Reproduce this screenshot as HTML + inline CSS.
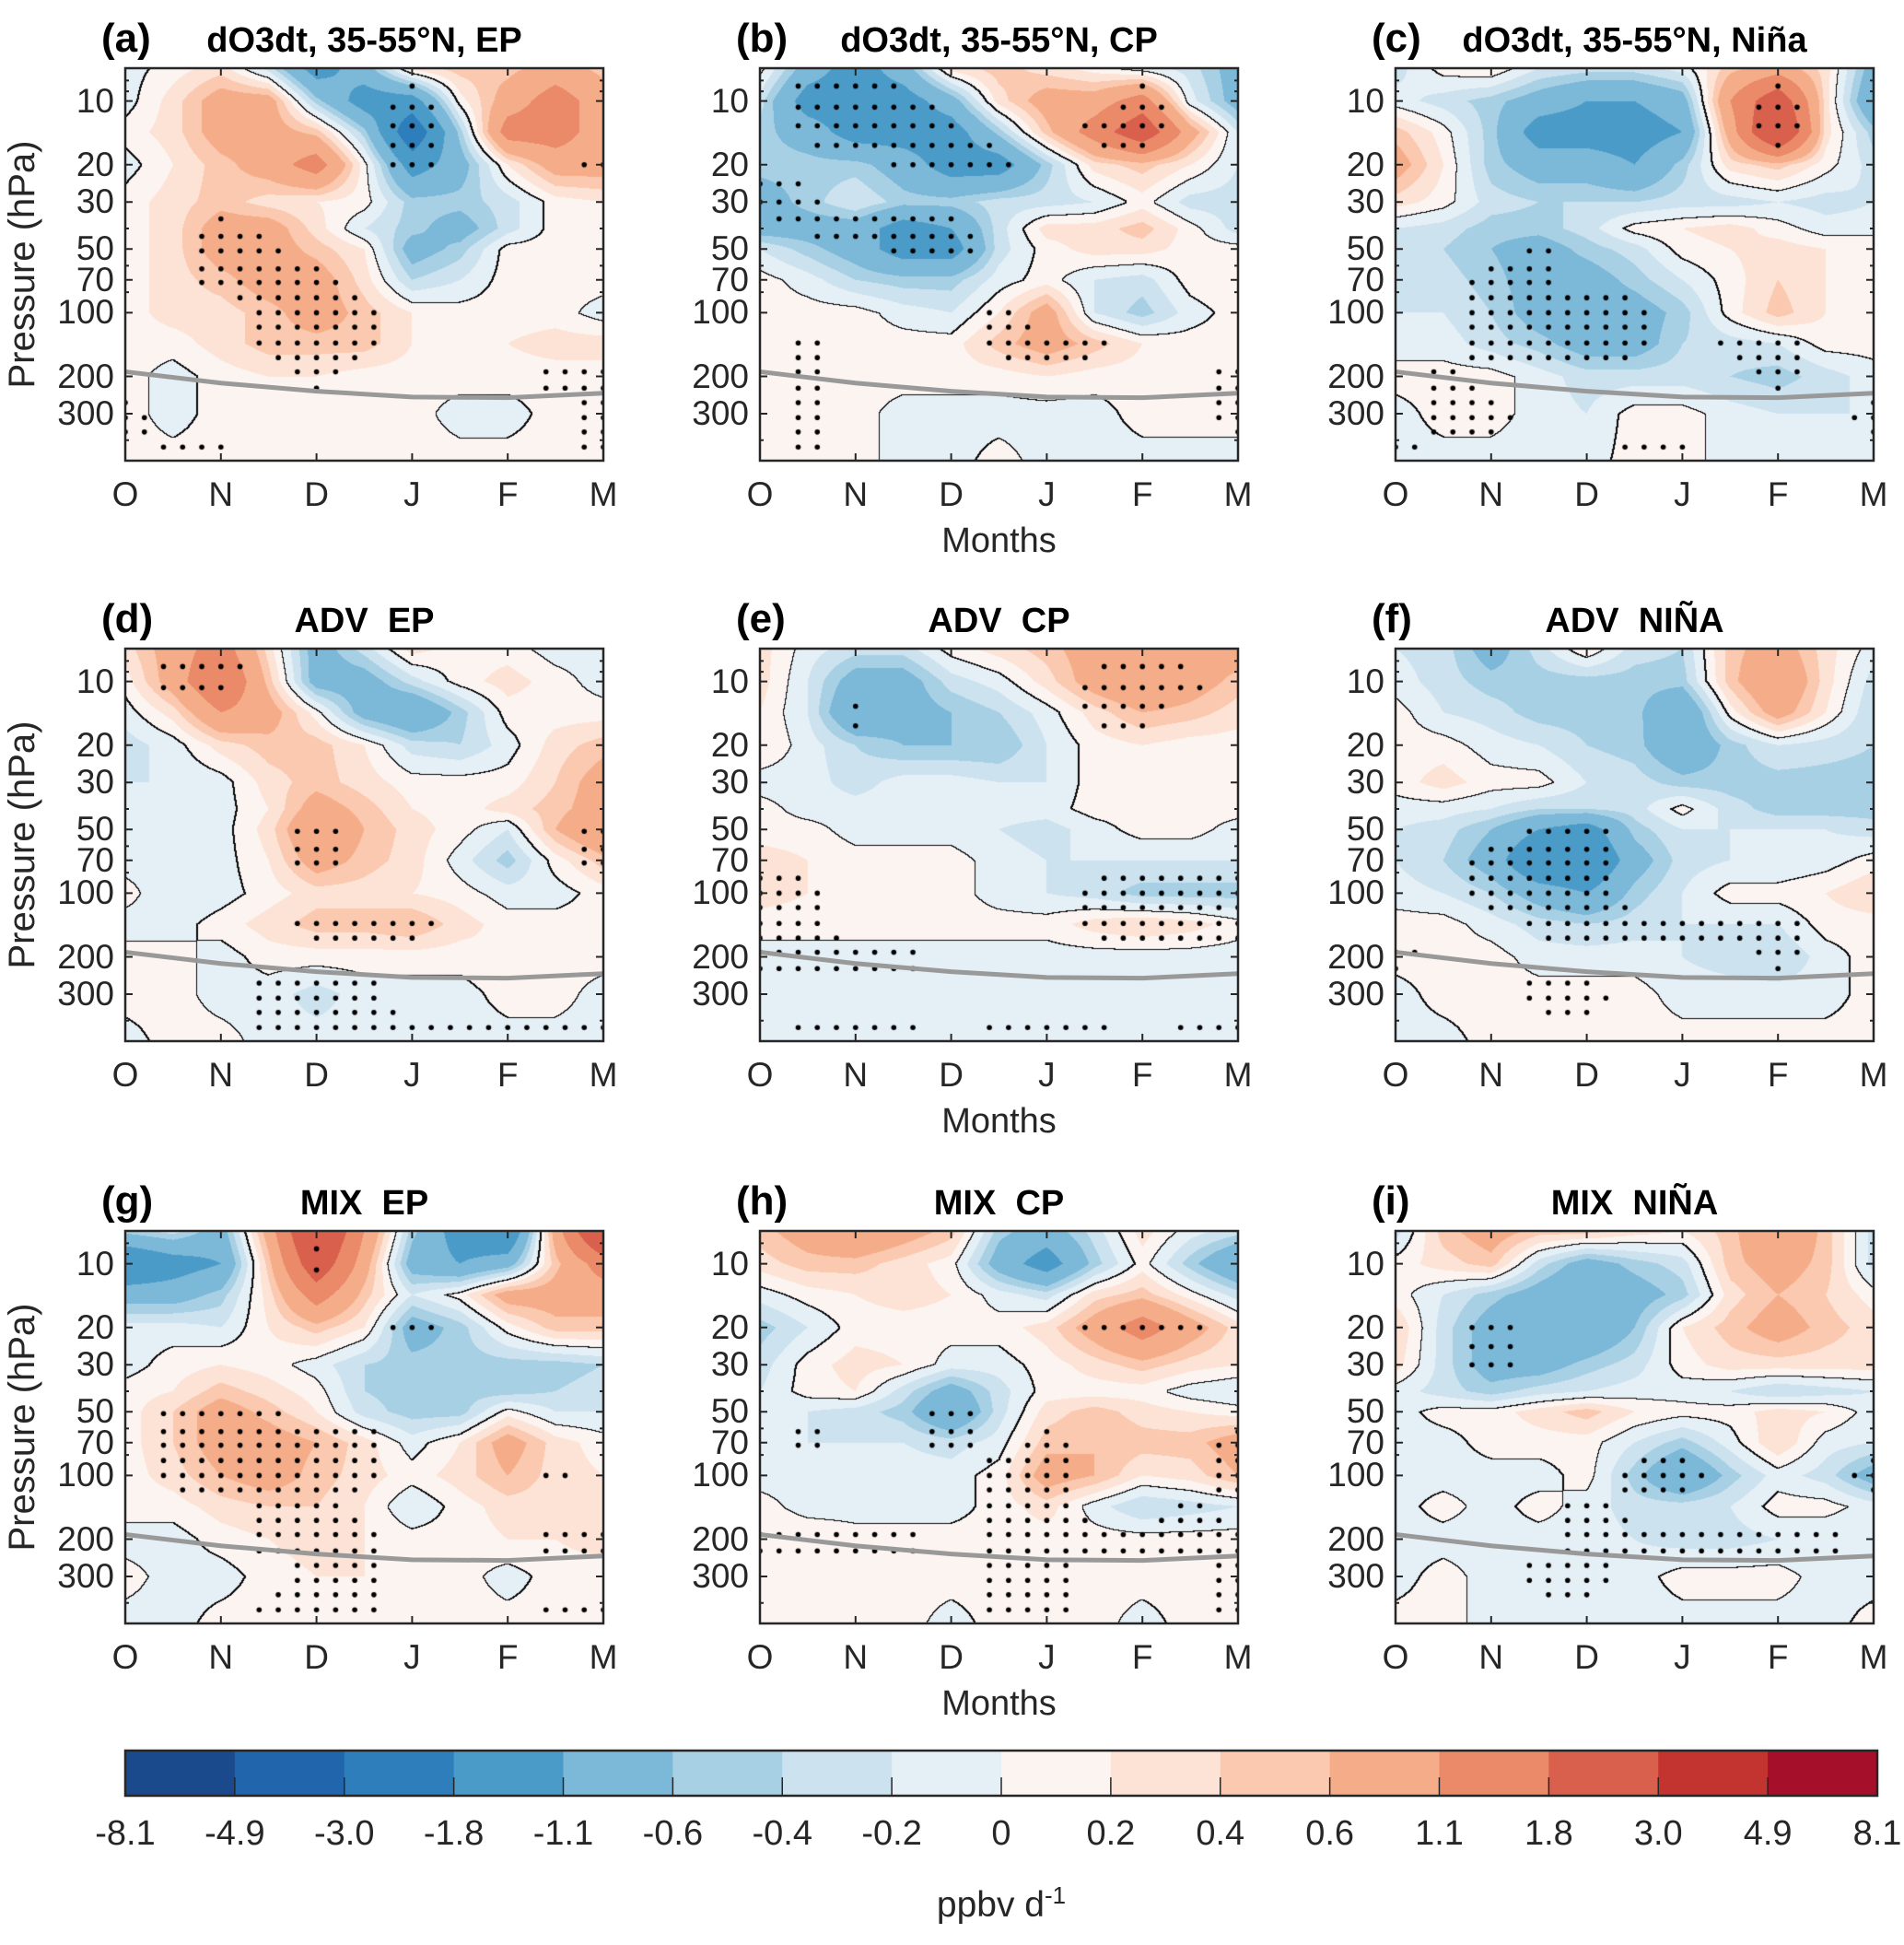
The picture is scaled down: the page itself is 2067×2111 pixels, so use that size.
<!DOCTYPE html>
<html><head><meta charset="utf-8">
<style>
body{margin:0;background:#fff;width:2067px;height:2111px;position:relative;overflow:hidden;font-family:"Liberation Sans",Arial,sans-serif;color:#262626}
.panel{position:absolute;width:519px;height:426px}
.panel canvas{position:absolute;left:0;top:0}
.panel svg{position:absolute;left:0;top:0;overflow:visible}
.t{position:absolute;white-space:pre}
</style></head>
<body>
<div id="root"></div>
<script>
// ---- data ----
const P = [7,10,14,20,30,40,50,70,100,140,200,300,500];
const MONTHS = ['O','N','D','J','F','M'];
const PTICKS = [10,20,30,50,70,100,200,300];
const BOUNDS = [-8.1,-4.9,-3,-1.8,-1.1,-0.6,-0.4,-0.2,0,0.2,0.4,0.6,1.1,1.8,3,4.9,8.1];
const BOUND_LABELS = ['-8.1','-4.9','-3.0','-1.8','-1.1','-0.6','-0.4','-0.2','0','0.2','0.4','0.6','1.1','1.8','3.0','4.9','8.1'];
const COLORS = ['#1a4a8c','#2166ac','#2e7ebc','#4b9bc9','#7cb8d8','#a8d0e4','#cce2ef','#e5eff6','#fcf4f1','#fde3d6','#fbc9af','#f5ad89','#ea8a69','#d8604c','#c3332f','#a50f29'];
const TROPO = [190,215,235,250,252,240];
const DOT_P = [8.5,10.7,13.1,16.2,20,24.6,30,36,43.6,51,62,72,85,100,117,139,163,190,227,266,313,366,431];

const A_VAL = [
[-0.1,0.1,0.3,-0.3,-1.4,-0.8,0.3,0.5,0.5,0.8,0.5],
[-0.1,0.3,0.8,0.8,-0.5,-1.4,-1.4,0.1,0.8,1.4,0.8],
[0.1,0.3,0.8,0.8,0.5,-0.5,-2.4,-0.5,1.4,1.4,0.8],
[-0.1,0.2,0.5,0.8,1.4,0.1,-1.4,-0.8,0.2,0.8,0.8],
[0.1,0.3,0.5,0.3,0.2,0.1,-0.5,-0.5,-0.3,0.1,0.2],
[0.1,0.3,0.8,0.8,0.3,-0.2,-0.5,-0.8,-0.3,0.1,0.1],
[0.1,0.3,0.8,0.8,0.5,0.2,-0.8,-0.5,0.1,0.1,0.1],
[0.1,0.3,0.5,0.8,0.8,0.3,-0.4,-0.2,0.1,0.1,0.1],
[0.1,0.3,0.3,0.5,0.8,0.5,0.2,0.1,0.1,0.1,-0.1],
[0.1,0.1,0.3,0.5,0.5,0.5,0.2,0.1,0.2,0.3,0.3],
[0.1,-0.1,0.1,0.2,0.2,0.1,0.1,0.1,0.1,0.1,0.1],
[0.1,-0.1,0.1,0.1,0.1,0.1,0.1,-0.1,-0.1,0.1,0.1],
[0.1,0.1,0.1,0.1,0.1,0.1,0.1,0.1,0.1,0.1,0.1]];
const A_SIG = ["00000000000","00000010000","00000010000","00000010001","00000000000","00100000000","00110000000","00111000000","00011100000","00011100000","00001000011","10000000001","01100000001"];

const B_VAL = [
[0.1,-0.8,-1.4,-0.8,0.3,0.5,0.3,0.1,-0.1,-0.3,-0.8],
[-0.3,-1.4,-1.4,-1.4,-0.8,0.3,0.8,0.8,1.4,-0.1,-0.8],
[-0.5,-0.8,-1.4,-1.4,-1.4,-0.5,0.5,1.4,2.4,0.8,-0.2],
[-0.5,-0.5,-0.5,-0.8,-1.4,-1.4,-0.5,0.3,0.5,0.2,-0.2],
[-0.8,-0.5,-0.2,-0.5,-0.5,-0.3,-0.3,-0.2,0.1,-0.3,-0.3],
[-0.8,-0.8,-0.8,-1.4,-1.1,-0.3,0.3,0.3,0.5,0.1,-0.3],
[-0.2,-0.5,-0.8,-1.4,-1.4,-0.3,0.1,0.3,0.3,0.1,0.1],
[0.1,-0.1,-0.4,-0.5,-0.5,-0.1,0.1,-0.2,-0.3,0.1,0.2],
[0.1,0.1,0.1,-0.1,-0.2,0.2,0.8,-0.2,-0.5,-0.1,0.1],
[0.1,0.1,0.1,0.1,0.1,0.5,0.8,0.5,0.2,0.1,0.1],
[0.1,0.1,0.1,0.1,0.1,0.1,0.2,0.1,0.1,0.1,0.1],
[0.1,0.1,0.1,-0.1,-0.1,-0.1,-0.1,-0.1,0.1,0.1,0.1],
[0.1,0.1,0.1,-0.1,-0.1,0.1,-0.1,-0.1,-0.1,-0.1,-0.1]];
const B_SIG = ["01100000001","01110000100","01111001100","00011100000","11000000000","01111000000","00011000000","00000000000","00000100000","01000111000","01000000001","01000000001","01000000000"];

const C_VAL = [
[-0.3,0.1,0.2,-0.2,-0.3,-0.3,-0.1,0.5,0.8,0.3,-0.8],
[-0.1,-0.3,-0.5,-0.8,-1.1,-1.1,-0.8,1.1,2.4,0.3,-1.1],
[0.5,0.1,-0.5,-1.4,-1.4,-1.4,-1.1,0.8,3.0,0.3,-0.5],
[0.8,0.2,-0.5,-0.8,-0.8,-1.1,-0.5,0.3,0.5,0.1,-0.3],
[0.3,0.1,-0.3,-0.4,-0.4,-0.4,-0.3,-0.3,-0.2,-0.3,-0.2],
[-0.2,-0.3,-0.5,-0.5,-0.3,0.1,0.2,0.3,0.1,-0.1,-0.1],
[-0.2,-0.4,-0.6,-0.8,-0.5,-0.3,0.1,0.2,0.3,0.2,0.2],
[-0.2,-0.3,-0.5,-0.8,-0.8,-0.5,-0.2,0.1,0.4,0.2,0.1],
[-0.2,-0.2,-0.4,-0.8,-0.8,-0.8,-0.5,0.1,0.5,0.2,0.1],
[-0.1,-0.1,-0.3,-0.5,-0.8,-0.8,-0.4,-0.3,-0.2,0.1,0.1],
[0.1,0.1,0.1,-0.1,-0.3,-0.3,-0.3,-0.4,-0.5,-0.3,-0.1],
[-0.1,0.1,0.1,-0.1,-0.2,0.1,0.1,-0.1,-0.2,-0.2,-0.2],
[-0.1,-0.1,-0.1,-0.1,-0.1,0.1,0.1,-0.1,-0.1,-0.1,-0.1]];
const C_SIG = ["00000000000","00000000100","00000000100","00000000000","00000000000","00000000000","00010000000","00110000000","00111100000","00111101100","01000000100","01100000001","10000110000"];

const D_VAL = [
[0.3,0.8,1.4,0.3,-0.8,-0.3,0.3,0.1,0.1,-0.1,-0.1],
[0.1,0.8,1.8,0.5,-0.8,-0.8,-0.3,0.1,0.3,0.1,-0.1],
[-0.1,0.3,1.1,0.8,0.1,-0.8,-1.1,-0.5,0.1,0.1,0.1],
[-0.3,-0.1,0.3,0.5,0.5,0.2,-0.3,-0.4,-0.1,0.3,0.5],
[-0.2,-0.2,-0.1,0.3,0.5,0.3,0.1,0.1,0.1,0.4,0.8],
[-0.2,-0.1,-0.1,0.2,0.8,0.5,0.2,0.1,0.3,0.5,0.8],
[-0.1,-0.1,-0.1,0.3,1.1,0.6,0.3,0.1,-0.2,0.6,1.1],
[-0.1,-0.1,-0.1,0.2,0.8,0.5,0.3,-0.1,-0.5,0.1,0.5],
[0.1,-0.2,-0.1,0.1,0.3,0.3,0.2,0.1,-0.1,-0.1,0.1],
[-0.1,-0.1,0.1,0.3,0.5,0.5,0.6,0.3,0.1,0.1,0.1],
[0.1,0.1,-0.1,0.1,0.1,0.1,0.1,0.1,0.2,0.1,0.1],
[0.1,0.1,-0.1,-0.1,-0.3,-0.1,-0.1,-0.1,0.1,0.1,-0.1],
[-0.1,0.1,0.1,-0.1,-0.1,-0.1,-0.1,-0.1,-0.1,-0.1,-0.1]];
const D_SIG = ["01100000000","01100000000","00000000000","00000000000","00000000000","00000000000","00001000001","00001000001","00000000000","00001110000","00000000000","00011100000","00011111111"];

const E_VAL = [
[0.3,-0.1,-0.3,-0.3,0.1,0.3,0.5,0.8,0.8,0.8,0.8],
[0.3,-0.2,-0.8,-0.8,-0.3,-0.1,0.3,0.8,1.1,0.8,0.5],
[0.2,-0.2,-1.1,-0.8,-0.6,-0.4,-0.1,0.3,0.6,0.5,0.3],
[0.2,-0.1,-0.4,-0.6,-0.6,-0.6,-0.2,0.1,0.2,0.1,0.1],
[-0.1,-0.1,-0.3,-0.1,-0.1,-0.2,-0.2,0.1,0.1,0.1,0.2],
[0.1,-0.1,-0.1,-0.1,-0.1,-0.1,-0.1,0.1,0.1,0.1,0.1],
[0.1,0.1,-0.1,-0.1,-0.1,-0.2,-0.3,-0.1,0.1,0.1,-0.1],
[0.3,0.2,0.1,0.1,0.1,-0.1,-0.2,-0.2,-0.2,-0.2,-0.2],
[0.3,0.2,0.1,0.1,0.1,-0.1,-0.2,-0.3,-0.5,-0.5,-0.5],
[0.1,0.1,0.1,0.1,0.1,0.1,0.1,0.3,0.4,0.3,0.1],
[-0.1,-0.1,-0.1,-0.1,-0.1,-0.1,-0.1,-0.1,-0.1,-0.1,-0.1],
[-0.1,-0.1,-0.1,-0.1,-0.1,-0.1,-0.1,-0.1,-0.1,-0.1,-0.1],
[-0.1,-0.1,-0.1,-0.1,-0.1,-0.1,-0.1,-0.1,-0.1,-0.1,-0.1]];
const E_SIG = ["00000000000","00000001110","00100001100","00000000000","00000000000","00000000000","00000000000","00000000000","11000001111","11000001111","11110000000","00000000000","01110111011"];

const F_VAL = [
[-0.2,-0.3,-0.8,-0.3,0.2,-0.3,-0.4,0.5,0.8,0.3,-0.1],
[-0.1,-0.3,-0.5,-0.5,-0.5,-0.5,-0.5,0.5,1.1,0.3,-0.3],
[0.1,-0.2,-0.3,-0.5,-0.5,-0.5,-1.1,0.1,0.8,0.2,-0.4],
[0.1,0.1,-0.1,-0.2,-0.4,-0.5,-1.0,-0.5,-0.2,-0.3,-0.4],
[0.1,0.3,0.1,0.1,-0.2,-0.3,-0.5,-0.5,-0.5,-0.5,-0.5],
[-0.1,-0.1,-0.2,-0.4,-0.4,-0.3,0.1,-0.3,-0.5,-0.5,-0.5],
[-0.2,-0.3,-0.6,-1.1,-1.4,-0.5,-0.2,-0.2,-0.2,-0.2,-0.3],
[-0.2,-0.4,-0.8,-1.8,-1.8,-0.8,-0.3,-0.2,-0.2,-0.1,0.1],
[-0.1,-0.2,-0.4,-0.8,-1.1,-0.5,-0.2,0.1,0.1,0.2,0.4],
[0.1,0.1,-0.1,-0.3,-0.4,-0.3,-0.2,-0.2,-0.2,0.1,0.1],
[0.1,0.1,0.1,-0.1,-0.1,-0.1,-0.2,-0.3,-0.4,-0.1,0.1],
[-0.1,0.1,0.1,0.1,0.1,0.1,-0.1,-0.1,-0.1,-0.1,0.1],
[-0.1,-0.1,0.1,0.1,0.1,0.1,0.1,0.1,0.1,0.1,0.1]];
const F_SIG = ["00000000000","00000000000","00000000000","00000000000","00000000000","00000000000","00011000000","00111000000","00111000000","00011111100","10000000100","00011000000","00000000000"];

const G_VAL = [
[-0.5,-0.3,-0.8,0.8,3.0,1.1,-0.5,-1.4,-1.8,0.8,3.0],
[-1.8,-1.4,-1.1,0.5,2.4,0.8,-0.8,-1.1,-0.8,0.5,1.4],
[-0.8,-0.8,-0.5,0.3,1.4,0.5,-0.2,0.1,0.8,0.8,0.8],
[-0.1,-0.1,-0.2,0.2,0.5,0.2,-0.8,-0.5,0.1,0.5,0.5],
[-0.1,0.1,0.2,0.1,-0.1,-0.4,-0.5,-0.5,-0.5,-0.5,-0.4],
[0.1,0.2,0.5,0.3,0.1,-0.4,-0.5,-0.5,-0.5,-0.4,-0.3],
[0.1,0.4,0.8,0.5,0.2,-0.3,-0.5,-0.5,0.1,-0.2,-0.2],
[0.1,0.4,0.8,0.8,0.6,0.3,-0.1,0.2,0.8,0.3,0.1],
[0.1,0.3,0.6,0.8,0.5,0.3,0.1,0.3,0.6,0.3,0.2],
[0.1,0.1,0.3,0.4,0.4,0.2,-0.2,0.1,0.3,0.3,0.3],
[-0.1,-0.1,0.1,0.2,0.3,0.2,0.1,0.1,0.2,0.2,0.3],
[0.1,-0.1,-0.1,0.1,0.2,0.2,0.1,0.1,-0.1,0.1,0.1],
[-0.1,-0.1,0.1,0.1,0.1,0.1,0.1,0.1,0.1,0.1,0.1]];
const G_SIG = ["00000000000","00001000000","00000000000","00000010000","00000000000","00000000000","01110000000","01111100000","01111100010","00011000000","00011100011","00001100000","00011100011"];

const H_VAL = [
[0.5,0.8,1.1,0.8,0.5,-0.5,-0.8,-0.3,0.3,-0.1,-0.3],
[0.3,0.5,0.5,0.3,0.1,-0.8,-1.4,-0.5,0.1,-0.5,-1.1],
[-0.1,0.1,0.2,0.3,0.2,-0.1,-0.3,0.3,0.5,0.1,-0.3],
[-0.5,-0.2,0.1,0.1,0.1,0.1,0.3,0.8,1.4,0.8,0.3],
[-0.3,0.1,0.3,0.2,-0.1,-0.1,0.1,0.3,0.5,0.3,0.2],
[-0.2,0.1,0.2,-0.3,-0.8,-0.3,0.1,0.1,0.1,-0.1,-0.2],
[-0.2,-0.2,-0.3,-0.5,-1.1,-0.3,0.3,0.5,0.3,0.2,0.1],
[-0.1,-0.2,-0.2,-0.2,-0.3,-0.1,0.5,0.6,0.5,0.5,0.8],
[-0.1,-0.1,-0.1,-0.1,-0.1,0.1,0.8,0.6,0.2,0.3,0.6],
[0.1,-0.1,-0.1,-0.1,-0.1,0.1,0.3,-0.1,-0.4,-0.3,-0.2],
[0.2,0.2,0.1,0.1,0.1,0.1,0.1,0.1,0.1,0.1,0.1],
[0.1,0.1,0.1,0.1,0.1,0.1,0.1,0.1,0.1,0.1,0.1],
[0.1,0.1,0.1,0.1,-0.1,0.1,0.1,0.1,-0.1,0.1,0.1]];
const H_SIG = ["00000000000","00000000000","00000000000","00000001110","00000000000","00000000000","00001000000","01001010001","00000110001","00000110010","11110111111","00000110001","00000110001"];

const I_VAL = [
[-0.3,0.5,0.8,0.5,0.5,0.3,0.2,0.5,1.1,0.5,-0.3],
[0.1,0.3,0.5,-0.3,-0.8,-0.5,-0.3,0.5,0.8,0.5,-0.3],
[0.1,-0.2,-0.5,-0.8,-1.1,-0.8,-0.5,0.3,0.6,0.4,0.1],
[0.4,-0.3,-0.8,-1.1,-1.1,-0.6,0.2,0.5,0.8,0.5,0.3],
[0.3,-0.3,-0.8,-0.8,-0.5,-0.3,0.1,0.3,0.3,0.3,0.3],
[-0.1,-0.3,-0.5,-0.3,-0.2,-0.1,-0.1,-0.2,-0.4,-0.3,-0.2],
[-0.1,0.1,0.1,0.3,0.5,0.2,0.1,0.1,0.3,0.2,-0.1],
[-0.1,-0.1,0.1,0.1,0.1,-0.2,-0.5,-0.1,0.4,-0.1,-0.2],
[-0.1,-0.1,-0.1,-0.1,0.1,-0.5,-1.1,-0.5,-0.1,-0.3,-0.8],
[-0.1,0.1,-0.1,0.1,-0.1,-0.3,-0.3,-0.2,0.1,0.1,-0.1],
[-0.1,-0.1,-0.1,-0.1,-0.1,-0.2,-0.3,-0.3,-0.2,-0.2,-0.2],
[-0.1,0.1,-0.1,-0.1,-0.1,-0.1,0.1,0.1,0.1,-0.1,-0.1],
[0.1,0.1,-0.1,-0.1,-0.1,-0.1,-0.1,-0.1,-0.1,-0.1,0.1]];
const I_SIG = ["00000000000","00000000000","00000000000","00100000000","00100000000","00000000000","00000000000","00000000000","00000110001","00001000000","00001111110","00011000000","00000000000"];

const PANELS = [
 {id:'a',title:'dO3dt, 35-55°N, EP',val:A_VAL,sig:A_SIG},
 {id:'b',title:'dO3dt, 35-55°N, CP',val:B_VAL,sig:B_SIG},
 {id:'c',title:'dO3dt, 35-55°N, Niña',val:C_VAL,sig:C_SIG},
 {id:'d',title:'ADV  EP',val:D_VAL,sig:D_SIG},
 {id:'e',title:'ADV  CP',val:E_VAL,sig:E_SIG},
 {id:'f',title:'ADV  NIÑA',val:F_VAL,sig:F_SIG},
 {id:'g',title:'MIX  EP',val:G_VAL,sig:G_SIG},
 {id:'h',title:'MIX  CP',val:H_VAL,sig:H_SIG},
 {id:'i',title:'MIX  NIÑA',val:I_VAL,sig:I_SIG}];

// ---- layout ----
const W = 519, H = 426;
const COLX = [136,825,1515], ROWY = [74,704,1336];
const LP0 = Math.log10(7), LP1 = Math.log10(500);
function xScale(m){ return m/5*W; }
function yScale(p){ return (Math.log10(p)-LP0)/(LP1-LP0)*H; }
const LOGP = P.map(p=>Math.log10(p));

function sample(grid, m, lp){
  let c = m*2; c = Math.max(0,Math.min(10,c));
  let j = 0, fr = 0;
  if (lp <= LOGP[0]) { j=0; fr=0; }
  else if (lp >= LOGP[LOGP.length-1]) { j=LOGP.length-2; fr=1; }
  else { while (LOGP[j+1] < lp) j++; fr=(lp-LOGP[j])/(LOGP[j+1]-LOGP[j]); }
  const i = Math.min(9, Math.floor(c)); const fc = c - i;
  const g = (r,k)=> typeof grid[r]==='string' ? +grid[r][k] : grid[r][k];
  const v0 = g(j,i)*(1-fc)+g(j,i+1)*fc;
  const v1 = g(j+1,i)*(1-fc)+g(j+1,i+1)*fc;
  return v0*(1-fr)+v1*fr;
}
function binOf(v){
  for (let k=0;k<16;k++) if (v < BOUNDS[k+1]) return k;
  return 15;
}
function hexRgb(h){ return [parseInt(h.substr(1,2),16),parseInt(h.substr(3,2),16),parseInt(h.substr(5,2),16)]; }
const RGB = COLORS.map(hexRgb);
const SVGNS = 'http://www.w3.org/2000/svg';

function text(parent, str, css, name){
  const d = document.createElement('div');
  d.className = 't';
  d.textContent = str;
  d.style.cssText = css;
  
  
  parent.appendChild(d);
  return d;
}

PANELS.forEach((pn, idx)=>{
  const col = idx%3, row = Math.floor(idx/3);
  const x0 = COLX[col], y0 = ROWY[row];
  const div = document.createElement('div');
  div.className = 'panel';
  div.style.left = x0+'px'; div.style.top = y0+'px';
  
  
  document.body.appendChild(div);

  const cv = document.createElement('canvas');
  cv.width = W; cv.height = H;
  
  
  div.appendChild(cv);
  const ctx = cv.getContext('2d');
  const img = ctx.createImageData(W,H);
  const sgn = new Int8Array(W*H);
  for (let y=0;y<H;y++){
    const lp = LP0 + (y+0.5)/H*(LP1-LP0);
    for (let x=0;x<W;x++){
      const m = (x+0.5)/W*5;
      const v = sample(pn.val, m, lp);
      sgn[y*W+x] = v>=0?1:0;
      const c = RGB[binOf(v)];
      const o = (y*W+x)*4;
      img.data[o]=c[0]; img.data[o+1]=c[1]; img.data[o+2]=c[2]; img.data[o+3]=255;
    }
  }
  for (let y=0;y<H;y++) for (let x=0;x<W;x++){
    const s = sgn[y*W+x];
    let edge = false;
    for (let dy=-1; dy<=1 && !edge; dy++) for (let dx=-1; dx<=1; dx++){
      const xx=x+dx, yy=y+dy;
      if (xx<0||yy<0||xx>=W||yy>=H) continue;
      if (sgn[yy*W+xx]!==s && s===1){ edge=true; break; }
    }
    if (!edge && x<W-1 && sgn[y*W+x+1]!==s) edge = true;
    if (edge){ const o=(y*W+x)*4; img.data[o]=10;img.data[o+1]=10;img.data[o+2]=10; }
  }
  ctx.putImageData(img,0,0);
  // stippling
  ctx.fillStyle = '#000';
  for (let k=0;k<=25;k++){
    const m = k*0.2;
    DOT_P.forEach(p=>{
      if (sample(pn.sig, m, Math.log10(p)) >= 0.5){
        ctx.beginPath(); ctx.arc(xScale(m), yScale(p), 2.8, 0, 6.2832); ctx.fill();
      }
    });
  }

  const svg = document.createElementNS(SVGNS,'svg');
  svg.setAttribute('width',W); svg.setAttribute('height',H);
  
  
  div.appendChild(svg);
  const tp = document.createElementNS(SVGNS,'polyline');
  tp.setAttribute('points', TROPO.map((p,i)=>xScale(i)+','+yScale(p)).join(' '));
  tp.setAttribute('fill','none'); tp.setAttribute('stroke','#999'); tp.setAttribute('stroke-width','5');
  
  
  svg.appendChild(tp);
  let tk = '';
  MONTHS.forEach((mn,i)=>{ const x=xScale(i); tk+=`M${x},${H}v-8M${x},0v8`; });
  PTICKS.forEach(p=>{ const y=yScale(p); tk+=`M0,${y}h8M${W},${y}h-8`; });
  [8,9,40,60,80,400,500].forEach(p=>{ const y=yScale(p); tk+=`M0,${y}h4M${W},${y}h-4`; });
  const tpath = document.createElementNS(SVGNS,'path');
  tpath.setAttribute('d',tk); tpath.setAttribute('stroke','#262626'); tpath.setAttribute('stroke-width','2');
  
  
  svg.appendChild(tpath);
  const box = document.createElementNS(SVGNS,'rect');
  box.setAttribute('x',0); box.setAttribute('y',0); box.setAttribute('width',W); box.setAttribute('height',H);
  box.setAttribute('fill','none'); box.setAttribute('stroke','#262626'); box.setAttribute('stroke-width','2.5');
  
  
  svg.appendChild(box);

  PTICKS.forEach(p=>{
    text(document.body, String(p), `right:${2067-x0+12}px;top:${y0+yScale(p)-21}px;font-size:37px;line-height:42px;`, 'y-tick-label');
  });
  MONTHS.forEach((mn,i)=>{
    text(document.body, mn, `left:${x0+xScale(i)-40}px;width:80px;text-align:center;top:${y0+H+16}px;font-size:37px;line-height:42px;`, 'x-tick-label');
  });
  text(document.body, '('+pn.id+')', `left:${x0-26}px;top:${y0-56}px;font-size:44px;font-weight:bold;line-height:48px;color:#000;`, 'panel-label-'+pn.id);
  text(document.body, pn.title, `left:${x0}px;width:${W}px;text-align:center;top:${y0-52}px;font-size:38px;font-weight:bold;line-height:44px;color:#000;`, 'panel-title-'+pn.id);
  if (col===0){
    text(document.body, 'Pressure (hPa)', `left:${x0-262}px;width:300px;text-align:center;top:${y0+H/2-22}px;font-size:40px;line-height:44px;transform:rotate(-90deg);`, 'y-axis-title');
  }
  if (col===1){
    text(document.body, 'Months', `left:${x0}px;width:${W}px;text-align:center;top:${y0+H+65}px;font-size:38px;line-height:44px;`, 'x-axis-title');
  }
});

// colorbar
const CB_X0 = 136, CB_X1 = 2038, CB_Y = 1900, CB_H = 49;
const cb = document.createElementNS(SVGNS,'svg');
cb.setAttribute('width','2067'); cb.setAttribute('height','80');
cb.style.cssText = `position:absolute;left:0;top:${CB_Y-5}px`;


document.body.appendChild(cb);
const cw = (CB_X1-CB_X0)/COLORS.length;
COLORS.forEach((c,i)=>{
  const r = document.createElementNS(SVGNS,'rect');
  r.setAttribute('x', CB_X0+i*cw); r.setAttribute('y',5); r.setAttribute('width',cw+0.5); r.setAttribute('height',CB_H);
  r.setAttribute('fill',c);
  
  
  cb.appendChild(r);
});
let cbt='';
for (let i=1;i<COLORS.length;i++){ const x=CB_X0+i*cw; cbt+=`M${x},${5+CB_H}v-20`; }
const cbp = document.createElementNS(SVGNS,'path');
cbp.setAttribute('d',cbt); cbp.setAttribute('stroke','#262626'); cbp.setAttribute('stroke-width','1.5');


cb.appendChild(cbp);
const cbb = document.createElementNS(SVGNS,'rect');
cbb.setAttribute('x',CB_X0); cbb.setAttribute('y',5); cbb.setAttribute('width',CB_X1-CB_X0); cbb.setAttribute('height',CB_H);
cbb.setAttribute('fill','none'); cbb.setAttribute('stroke','#262626'); cbb.setAttribute('stroke-width','2.5');


cb.appendChild(cbb);
BOUND_LABELS.forEach((lb,i)=>{
  text(document.body, lb, `left:${CB_X0+i*cw-60}px;width:120px;text-align:center;top:1968px;font-size:38px;line-height:44px;`, 'colorbar-tick-label');
});
const unit = text(document.body, 'ppbv d', `left:977px;width:220px;text-align:center;top:2034px;font-size:39px;line-height:46px;`, 'colorbar-unit-label');
const sup = document.createElement('sup');
sup.textContent = '-1';
sup.style.fontSize = '26px';


unit.appendChild(sup);
</script>
</body></html>
